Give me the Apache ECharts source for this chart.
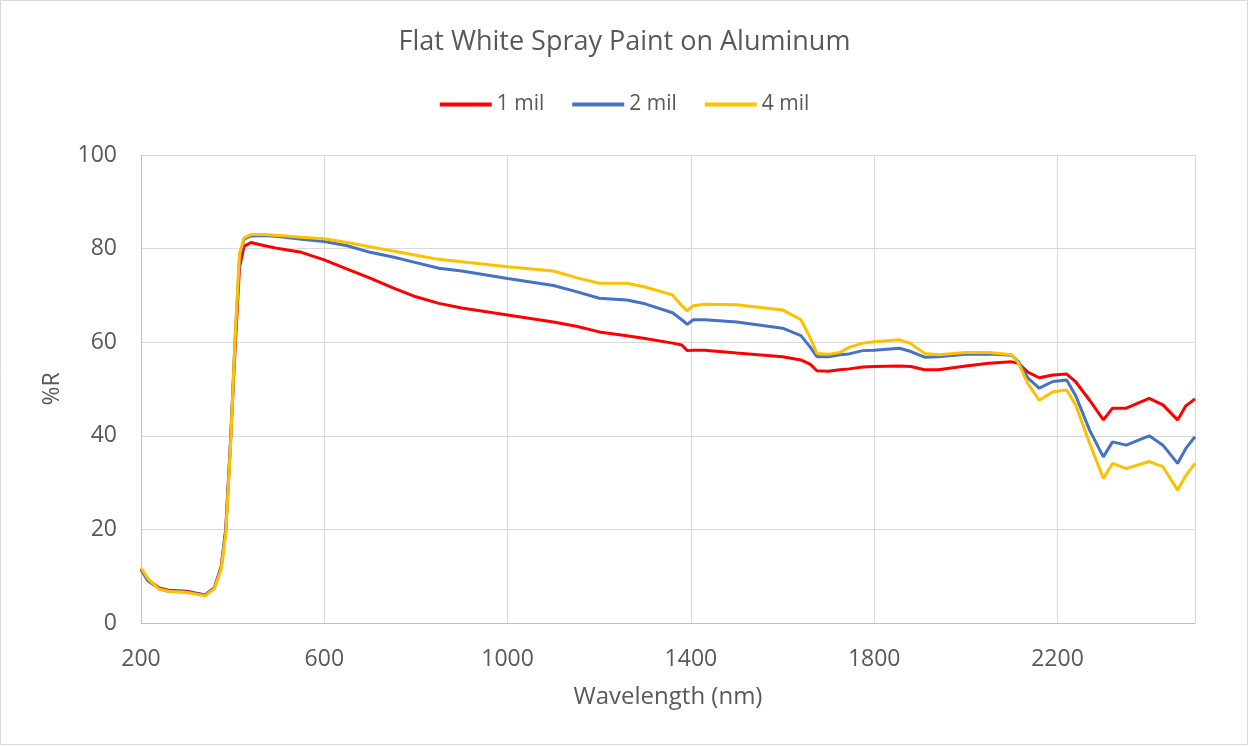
<!DOCTYPE html>
<html>
<head>
<meta charset="utf-8">
<script src="https://cdn.jsdelivr.net/npm/echarts@6/dist/echarts.min.js"></script>
<style>
html,body{margin:0;padding:0;background:#fff;}
#chart{width:1249px;height:746px;}
</style>
</head>
<body>
<div id="chart"></div>
<script>
const wavelength = [200,215,240,260,300,340,360,375,385,395,405,415,425,440,470,500,550,600,650,700,750,800,850,900,1000,1100,1150,1200,1260,1300,1360,1380,1392,1405,1430,1500,1600,1640,1660,1675,1700,1725,1745,1775,1800,1855,1880,1910,1940,2000,2050,2100,2115,2135,2160,2190,2220,2240,2270,2300,2320,2350,2400,2430,2462,2480,2500];
const mil1 = [11.5,9.2,7.5,7,6.8,6,7.5,12,20,38,58,76,80.5,81.3,80.6,80,79.2,77.6,75.6,73.7,71.6,69.7,68.3,67.3,65.8,64.3,63.4,62.2,61.4,60.8,59.8,59.4,58.2,58.3,58.3,57.7,56.9,56.2,55.3,53.9,53.8,54.1,54.3,54.7,54.8,54.9,54.8,54.1,54.1,54.9,55.5,55.8,55.5,53.6,52.4,53.0,53.2,51.5,47.6,43.4,45.9,45.9,48,46.6,43.4,46.4,47.9];
const mil2 = [11.5,9,7.3,6.8,6.6,6,7.5,12,20,38,60,78,82,82.7,82.8,82.6,82,81.5,80.6,79.2,78.2,77,75.8,75.2,73.6,72.1,70.8,69.4,69,68.2,66.3,64.8,63.8,64.8,64.8,64.3,63,61.4,59,56.9,56.9,57.3,57.5,58.2,58.3,58.7,58,56.8,56.9,57.4,57.5,57.2,55.8,52.4,50.2,51.6,51.9,48.5,41.2,35.5,38.7,38,40,38,34.1,37.3,39.8];
const mil4 = [11.8,9.5,7.2,6.8,6.5,5.8,7.3,11.5,19,37,60,79,82.3,83,83,82.8,82.4,82.1,81.3,80.4,79.5,78.6,77.7,77.2,76.1,75.2,73.8,72.6,72.6,71.8,70.1,67.8,66.7,67.8,68.1,68,66.9,64.8,61,57.6,57.4,57.8,58.9,59.8,60.1,60.5,59.7,57.6,57.3,57.8,57.8,57.3,55.5,51.2,47.6,49.4,49.8,46.5,38.4,30.9,34.1,33,34.5,33.4,28.4,31.5,34.1];
const seriesNames = ['1 mil','2 mil','4 mil'];
const seriesColors = ['#FF0000','#4472C4','#FFC000'];
const seriesValues = [mil1, mil2, mil4];

const font = 'Open Sans, Noto Sans, sans-serif';
const chart = echarts.init(document.getElementById('chart'));
chart.setOption({
  animation:false,
  backgroundColor:'#fff',
  title:{text:'Flat White Spray Paint on Aluminum',left:'center',top:24,
    textStyle:{fontFamily:font,fontSize:27,fontWeight:'normal',color:'#595959'}},
  legend:{top:89,left:'center',itemWidth:52,itemHeight:4,itemGap:28,icon:'rect',
    textStyle:{fontFamily:font,fontSize:21,color:'#595959'},
    data:seriesNames},
  graphic:[{type:'rect',shape:{x:0.5,y:0.5,width:1247,height:744},
    style:{fill:'none',stroke:'#d9d9d9',lineWidth:1},silent:true}],
  grid:{left:141,right:54,top:155,bottom:123},
  xAxis:{type:'value',min:200,max:2500,interval:400,
    name:'Wavelength (nm)',nameLocation:'middle',nameGap:62,
    nameTextStyle:{fontFamily:font,fontSize:24,color:'#595959'},
    axisLine:{show:true,lineStyle:{color:'#bfbfbf',width:1}},
    axisTick:{show:false},
    axisLabel:{fontFamily:font,fontSize:23,color:'#595959',margin:25,showMaxLabel:false,
      formatter:v=>String(v)},
    splitLine:{show:true,lineStyle:{color:'#d9d9d9',width:1}}},
  yAxis:{type:'value',min:0,max:100,interval:20,
    name:'%R',nameLocation:'middle',nameGap:77,nameRotate:90,
    nameTextStyle:{fontFamily:font,fontSize:23,color:'#595959'},
    axisLine:{show:true,lineStyle:{color:'#bfbfbf',width:1}},
    axisTick:{show:false},
    axisLabel:{fontFamily:font,fontSize:23,color:'#595959',margin:24},
    splitLine:{show:true,lineStyle:{color:'#d9d9d9',width:1}}},
  series: seriesNames.map((n,i)=>({
    name:n,type:'line',showSymbol:false,symbol:'none',smooth:false,
    color:seriesColors[i],
    lineStyle:{width:3,color:seriesColors[i]},
    data: wavelength.map((w,j)=>[w, seriesValues[i][j]])
  }))
});
</script>
</body>
</html>
